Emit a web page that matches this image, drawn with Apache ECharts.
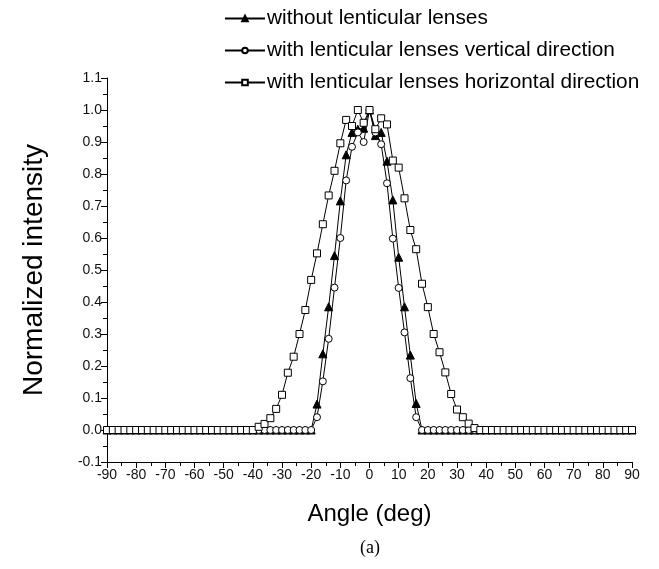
<!DOCTYPE html>
<html>
<head>
<meta charset="utf-8">
<script src="https://cdn.jsdelivr.net/npm/echarts@6/dist/echarts.min.js"></script>
<style>
  html, body { margin: 0; padding: 0; background: #fff; }
  #chart { width: 659px; height: 569px; }
</style>
</head>
<body>
<div id="chart"></div>
<script>
// Emission angle in degrees (2-degree steps)
const angles = [
  -90, -88, -86, -84, -82, -80, -78, -76, -74, -72, -70, -68, -66, -64, -62, -60,
  -58, -56, -54, -52, -50, -48, -46, -44, -42, -40, -38, -36, -34, -32, -30, -28,
  -26, -24, -22, -20, -18, -16, -14, -12, -10, -8, -6, -4, -2, 0,
  2, 4, 6, 8, 10, 12, 14, 16, 18, 20, 22, 24, 26, 28, 30, 32, 34, 36, 38, 40,
  42, 44, 46, 48, 50, 52, 54, 56, 58, 60, 62, 64, 66, 68, 70, 72, 74, 76, 78, 80,
  82, 84, 86, 88, 90
];

// Normalized intensity without lenticular lenses
const withoutLenses = [
  0, 0, 0, 0, 0, 0, 0, 0, 0, 0, 0, 0, 0, 0, 0, 0,
  0, 0, 0, 0, 0, 0, 0, 0, 0, 0, 0, 0, 0, 0, 0, 0,
  0, 0, 0, 0, 0.081, 0.238, 0.385, 0.545, 0.716, 0.86, 0.93, 0.94, 0.943, 1.0,
  0.92, 0.93, 0.84, 0.719, 0.54, 0.385, 0.234, 0.083, 0, 0, 0, 0, 0, 0, 0, 0, 0, 0, 0, 0,
  0, 0, 0, 0, 0, 0, 0, 0, 0, 0, 0, 0, 0, 0, 0, 0, 0, 0, 0, 0,
  0, 0, 0, 0, 0
];

// Normalized intensity with lenticular lenses, vertical direction
const lensVertical = [
  0, 0, 0, 0, 0, 0, 0, 0, 0, 0, 0, 0, 0, 0, 0, 0,
  0, 0, 0, 0, 0, 0, 0, 0, 0, 0, 0, 0, 0, 0, 0, 0,
  0, 0, 0, 0, 0.04, 0.152, 0.285, 0.445, 0.60, 0.78, 0.885, 0.93, 0.90, 1.0,
  0.93, 0.893, 0.771, 0.598, 0.444, 0.305, 0.162, 0.04, 0, 0, 0, 0, 0, 0, 0, 0, 0, 0, 0, 0,
  0, 0, 0, 0, 0, 0, 0, 0, 0, 0, 0, 0, 0, 0, 0, 0, 0, 0, 0, 0,
  0, 0, 0, 0, 0
];

// Normalized intensity with lenticular lenses, horizontal direction
const lensHorizontal = [
  0, 0, 0, 0, 0, 0, 0, 0, 0, 0, 0, 0, 0, 0, 0, 0,
  0, 0, 0, 0, 0, 0, 0, 0, 0, 0, 0.01, 0.019, 0.037, 0.066, 0.11, 0.179,
  0.229, 0.30, 0.375, 0.469, 0.552, 0.643, 0.733, 0.81, 0.896, 0.969, 0.95, 1.0, 0.96, 1.0,
  0.94, 0.974, 0.955, 0.842, 0.82, 0.724, 0.625, 0.565, 0.457, 0.384, 0.30, 0.243, 0.18, 0.1125, 0.064, 0.04, 0.02, 0.006, 0, 0,
  0, 0, 0, 0, 0, 0, 0, 0, 0, 0, 0, 0, 0, 0, 0, 0, 0, 0, 0, 0,
  0, 0, 0, 0, 0
];

const seriesNames = [
  'without lenticular lenses',
  'with lenticular lenses vertical direction',
  'with lenticular lenses horizontal direction'
];

const xTicks = { min: -90, max: 90, step: 10 };
const yTicks = { min: -0.1, max: 1.1, step: 0.1 };

const FONT = '"Liberation Sans", Arial, sans-serif';

function pairs(ys) {
  return angles.map((a, i) => [a, ys[i]]);
}

const chart = echarts.init(document.getElementById('chart'), null, { renderer: 'canvas' });

const lineStyle = { color: '#000', width: 1 };

chart.setOption({
  animation: false,
  backgroundColor: '#fff',
  grid: { left: 107, top: 78, width: 525, height: 384, containLabel: false },
  legend: {
    orient: 'vertical',
    left: 219,
    top: 3,
    itemWidth: 40,
    itemHeight: 7,
    itemGap: 11,
    textStyle: { fontFamily: FONT, fontSize: 20.8, color: '#000', padding: [0, 0, 0, -3] },
    data: seriesNames
  },
  xAxis: {
    type: 'value',
    min: xTicks.min,
    max: xTicks.max,
    interval: xTicks.step,
    name: 'Angle (deg)',
    nameLocation: 'middle',
    nameGap: 40,
    nameTextStyle: { fontFamily: FONT, fontSize: 24, color: '#000' },
    axisLine: { onZero: false, lineStyle: { color: '#000', width: 1 } },
    axisTick: { show: true, inside: false, length: 6, lineStyle: { color: '#000' } },
    minorTick: { show: true, splitNumber: 2, length: 4, lineStyle: { color: '#000' } },
    axisLabel: { fontFamily: FONT, fontSize: 14, color: '#111', margin: 6 },
    splitLine: { show: false }
  },
  yAxis: {
    type: 'value',
    min: yTicks.min,
    max: yTicks.max,
    interval: yTicks.step,
    name: 'Normalized intensity',
    nameLocation: 'middle',
    nameGap: 59,
    nameTextStyle: { fontFamily: FONT, fontSize: 28, color: '#000' },
    axisLine: { show: true, onZero: false, lineStyle: { color: '#000', width: 1 } },
    axisTick: { show: true, inside: false, length: 6, lineStyle: { color: '#000' } },
    minorTick: { show: true, splitNumber: 2, length: 4, lineStyle: { color: '#000' } },
    axisLabel: {
      fontFamily: FONT, fontSize: 14, color: '#111', margin: 5,
      formatter: v => v.toFixed(1)
    },
    splitLine: { show: false }
  },
  series: [
    {
      name: seriesNames[0],
      type: 'line',
      data: pairs(withoutLenses),
      symbol: 'triangle',
      symbolSize: 8,
      showAllSymbol: true,
      lineStyle: lineStyle,
      itemStyle: { color: '#000', borderColor: '#000', borderWidth: 1 },
      z: 2
    },
    {
      name: seriesNames[1],
      type: 'line',
      data: pairs(lensVertical),
      symbol: 'circle',
      symbolSize: 7,
      showAllSymbol: true,
      lineStyle: lineStyle,
      itemStyle: { color: '#fff', borderColor: '#000', borderWidth: 1 },
      z: 3
    },
    {
      name: seriesNames[2],
      type: 'line',
      data: pairs(lensHorizontal),
      symbol: 'rect',
      symbolSize: 7,
      showAllSymbol: true,
      lineStyle: lineStyle,
      itemStyle: { color: '#fff', borderColor: '#000', borderWidth: 1 },
      z: 4
    }
  ],
  graphic: [
    {
      type: 'text',
      x: 370,
      y: 548,
      style: {
        text: '(a)', fontFamily: '"Liberation Serif", "Times New Roman", serif',
        fontSize: 18, fill: '#000', align: 'center', verticalAlign: 'middle'
      }
    }
  ]
});
</script>
</body>
</html>
